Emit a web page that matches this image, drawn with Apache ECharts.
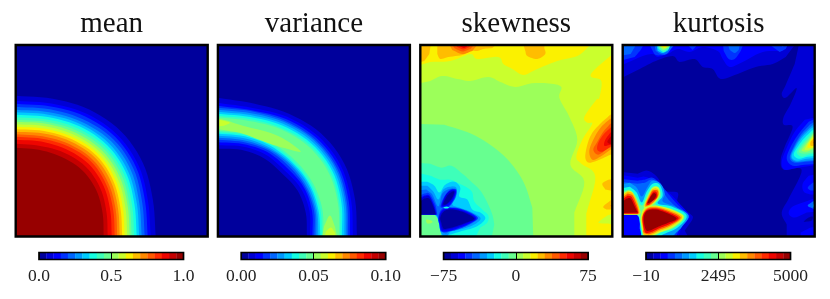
<!DOCTYPE html>
<html><head><meta charset="utf-8">
<style>html,body{margin:0;padding:0;background:#fff}#c{width:830px;height:299px}</style>
<script src="https://cdn.jsdelivr.net/npm/echarts@6/dist/echarts.min.js"></script>
</head><body><div id="c"></div>
<script>
const titles = ['mean', 'variance', 'skewness', 'kurtosis'];
const meanTicks = ['0.0', '0.5', '1.0'];
const varianceTicks = ['0.00', '0.05', '0.10'];
const skewnessTicks = ['\u221275', '0', '75'];
const kurtosisTicks = ['\u221210', '2495', '5000'];
const colorbarBands = [0,1,2,3,4,5,6,7,8,9,10,11,12,13,14,15,16,17,18,19];
const bandColorPositions = [.025,.075,.125,.175,.225,.275,.325,.375,.425,.475,.54,.595,.655,.71,.765,.815,.865,.905,.94,.98];
const fieldBox = [-3,-3,196,-3,196,196,-3,196];

// Contour radii read along rays at these angles from the lower-left corner
const arcAngles = [90,75,60,45,30,15,0];

// mean: [band, radii]
const meanContours = [
[1,[141,143,147,149,147,142,140]],
[2,[136,138,142,144,142,137,135]],
[3,[133,135,139,141,139,134,132]],
[4,[130,132,135.5,138,136,131,129]],
[5,[127,129,132.5,135,133,128,126]],
[6,[124.5,126.5,130,132,130,125.5,123.5]],
[7,[122,124,127.5,129.5,127.5,123,121]],
[8,[119.5,121.5,125,127,125,120.5,118.5]],
[9,[117,119,122.5,124.5,122.5,118,116]],
[10,[115,117,120,122,120,116,114]],
[11,[112.5,114.5,117.5,119.5,117.5,113.5,111.5]],
[12,[110,112,115,117,115,111,109]],
[13,[107.5,109.5,112.5,114.5,112.5,108.5,106.5]],
[14,[105,107,110,112,110,106,104]],
[15,[102.5,104,107,109,107,103.5,101.5]],
[16,[100,101.5,104.5,106.5,104.5,101,99]],
[17,[97,98.5,101,103,101.5,98,96]],
[18,[93,94,97,99,97.5,94,92]],
[19,[89,90,92,94,93,90,88]]
];

// variance: [band, outer radii, inner radii]
const varianceRings = [
[1,[139,138,142,146,146,142,139],[88,90,91,90,92,91,89]],
[2,[134,133.5,138.5,142,142,138,135],[91.5,93.5,95,94,96,95,92]],
[3,[131,131,136,139.5,139.5,135.5,132],[94.5,96,98,97.5,99,97.5,94.5]],
[4,[129,130,134,137.5,137.5,133.5,130],[97,98,100,100,100.5,99.5,96.5]],
[5,[127,128,132.5,136,136,132,128.5],[99,100,101.5,102,102,101,98.5]],
[6,[125,126,130.5,134,134,130,126.5],[101,102,103,103.5,104,102.5,100.5]],
[7,[123,124,128.5,132,132,128,124],[103,104,105,105,105.5,104,102.5]],
[8,[121,122,126,130,130,126,122.5],[104.5,105.5,106.5,106.5,107,106,104]],
[9,[119.5,120,124.5,128,128,124.5,121.5],[106,107,108,108.5,109,108,105.5]]
];
const varianceBlobs = [
[10,[-3,119,10,116,25,111,52,104,69,96,83,85,69,88,52,93,25,103,10,106,-3,108]],
[11,[-3,118,6,116,12,114,6,111,-3,110]],
[10,[104,-3,106,10,112,21,117,10,120,-3]],
[11,[106,-3,108,5,113,9,117,4,118,-3]]
];

const skewnessBands = [
[10,fieldBox],
[11,[-3,153,10,156,22,161,37,158,50,156,68,160,80,155,95,150,115,154,140,151,139,139,149,120,157,97,150,72,164,55,154,24,154,-3,196,-3,196,196,-3,196]],
[12,[-3,171,10,175,30,176,50,183,57,178,78,180,83,173,92,168,103,162,117,168,137,176,157,181,168,190,174,196,-3,196]],
[12,[196,183,190,181,173,166,171,160,181,156,179,139,176,137,164,120,167,114,172,113,162,97,156,80,161,73,175,60,166,23,166,-3,196,-3]],
[11,[196,24,187,21,178,14,188,13,196,11]],
[13,[-3,174,4,176,9,183,11,196,-3,196]],
[13,[17,196,17,183,20,178,28,180,42,182,50,186,57,186,63,188,72,189,80,196]],
[13,[102,196,105,186,107,181,117,178,125,183,124,190,128,192,147,192,157,192,165,196]],
[13,[196,123,190,122,181,114,172,104,167,92,165,79,169,74,179,77,190,82,196,83]],
[13,[196,58,188,57,182,53,185,47,196,45]],
[13,[196,40,190,36,183,30,186,27,196,27]],
[14,[196,35,190,31,192,29,196,29]],
[14,[27,196,32,187,42,183,52,186,60,196]],
[15,[30,196,34,189,42,185.5,50,188,57,196]],
[16,[33,196,37,190,43,187.5,49,190,54,196]],
[17,[35,196,39,191,44,189,48,192,51,196]],
[18,[37,196,41,192.5,45,191,47,196]],
[14,[196,119,190,118,181,110,174,99,169,86,172,77,180,80,190,87,196,88]],
[15,[196,115,190,113,183,105,177,95,173,87,178,82,187,88,196,92]],
[16,[196,112,190,109,183,102,178,94,177,87,182,85,190,90,196,94]],
[17,[196,108,190,104,185,97,184,91,190,92,196,96]],
[18,[196,105,191,101,187,95,191,92,196,93]],
[9,[-3,113,24,112,51,103,74,89,91,73,104,53,112,29,113,-3,-3,-3]],
[8,[-3,74,10,73,21,69,31,71,42,63,52,54,60,46,66,36,72,22,74,12,71,-3,-3,-3]],
[7,[-3,64,10,61,20,57,30,57,37,54,47,49,52,44,54,35,62,27,68,21,67,14,60,9,54,-3,-3,-3]],
[9,[-3,22,14,22,18,17,19,9,24,-3,-3,-3]],
[10,[6,17,11,16,12,14,7,13]],
[6,[-3,55,7,55,14,51,19,44,25,52,34,55,40,49,39,40,47,37,52,27,60,24,65,19,62,14,54,9,40,5,27,1,22,-3,20,7,17,19,14,22,-3,22]],
[5,[-3,51,7,51,13,45,18,37,23,47,30,50,36,49,36,40,32,32,39,29,50,25,60,19,57,14,47,9,30,5,25,-3,20,5,18,17,15,22,-3,22]],
[4,[-3,46,6,47,12,42,18,30,22,43,30,48,34,46,33,38,28,30,24,28,36,26,50,22,57,18,53,14,45,10,30,6,26,3,21,6,19,17,16,22,-3,22]],
[3,[-3,40,4,43,9,43,15,32,17,22,-3,22]],
[3,[20,30,24,40,30,47,36,47,35,39,29,30,24,29]],
[3,[18,19,22,28,34,29,47,25.5,57.5,19,52,14,40,8,29,5,21,5,19,12]],
[2,[-3,37,4,41,9,41,14,31,16.5,22,-3,22]],
[2,[21,31,25,41,30.5,46.5,35.5,46,34,39,29,31.5,24,30]],
[2,[18.5,19,22.5,27,33,28.5,46,25,56,18.5,49,13,38,8.5,29,5.5,21.5,5.5,19.5,12]],
[1,[-3,35,4,40,9,40,13.5,30.5,16,22,-3,22]],
[1,[22,32,26,42,31,46,35,45,33,39,28,33,24,31]],
[1,[19,19,23,26,32,27.5,45,24.5,55,18,47,13.5,35,9,27,7,22,7,20,14]],
[0,[-3,33,4,38,9,38,13,30,15.5,22,-3,22]],
[0,[23,33,27,41,32,45,34,44.5,32,39,28,34,25,32]],
[0,[20,19,24,25.5,32,27,44,24,54,18,46,14,35,10,27,8,23,8,21,14]],
[7,[23,29,26,30,29,29,26,28]]
];

const kurtosisBands = [
[0,fieldBox],
[1,[-3,158,17,168,33,176,50,181,57,175,72,178,80,170,90,168,98,158,115,163,133,170,150,173,163,180,175,196,-3,196]],
[1,[177,196,172,173,163,152,159,143,163,139,174,149,168,133,161,120,161,112,170,110,162,90,158,77,161,67,179,67,167,40,159,24,164,12,164,-3,196,-3,196,196]],
[2,[-3,171,13,178,20,181,30,183,35,180,45,183,55,188,67,185,80,190,95,186,100,178,107,170,120,175,140,185,160,186,167,196,-3,196]],
[3,[-3,176,12,180,18,187,23,196,-3,196]],
[3,[25,196,29,188,33,182,42,182,53,193,55,196]],
[3,[61,196,70,187,78,196]],
[3,[100,196,101,186,106,178,112,178,118,186,122,196]],
[3,[142,196,157,185,163,188,167,196]],
[4,[-3,181,8,183,12,190,14,196,-3,196]],
[4,[31,196,33,186,38,183,44,183,49,189,54,196]],
[4,[104,196,107,187,112,184,116,187,118,196]],
[4,[64,196,70,191,75,196]],
[4,[157,196,160,190,165,196]],
[6,[33,196,35,186,40,184,45,186,50,196]],
[8,[34,196,36,188,41,185,46,188,49,196]],
[10,[35,196,37,190,41,187,46,190,48,196]],
[12,[36,196,38,191,42,189,45,191,47,196]],
[14,[37,196,39,192,42,191,44,193,46,196]],
[16,[39,196,42,193,44,196]],
[2,[196,163,190,158,190,152,196,150]],
[2,[196,120,182,117,172,105,164,89,159,75,162,67,175,69,196,72]],
[3,[196,120,186,115,176,103,168,90,164,78,170,71,182,72,196,73]],
[4,[196,118,187,112,178,102,171,90,167,79,172,74,183,75,196,76]],
[5,[196,116,188,110,179,101,172,90,168,80,173,75,184,76,196,77]],
[6,[196,113,188,108,180,100,173,90,169,80,174,76,184,78,196,79]],
[7,[196,111,189,106,181,98,175,90,171,82,176,78,185,80,196,81]],
[8,[196,110,189,104,183,97,177,90,174,84,179,80,186,82,196,84]],
[9,[196,109,190,103,184,96,179,90,176,85,181,83,188,84,196,86]],
[10,[196,108,190,102,185,95,181,90,179,86,184,85,189,87,196,88]],
[11,[196,107,191,101,186,95,183,90,182,87,186,87,191,89,196,90]],
[12,[196,106,191,100,187,95,185,91,185,89,189,89,196,91]],
[13,[196,104,192,99,188,95,188,91,192,91,196,92]],
[14,[196,102,193,97,190,94,193,92,196,93]],
[15,[196,100,193,96,196,93]],
[2,[196,63,186,61,180,53,181,45,188,42,196,42]],
[3,[196,56,190,54,185,49,188,46,196,46]],
[2,[196,40,186,36,170,30,166,23,172,19,184,24,196,25]],
[4,[196,37,190,35,185,31,190,28,196,27]],
[6,[196,35,191,33,190,30,196,29]],
[0,[181,15,186,19,190,20,189,16,184,15]],
[2,[196,10,188,9,178,4,178,-3,196,-3]],
[1,[-3,65,15,63,25,66,35,59,42,46,55,44,55,33,67,23,70,18,62,6,67,-3,-3,-3]],
[2,[-3,62,15,59,22,60,29,57,37,50,47,43,55,35,64,25,67,19,59,10,55,-3,-3,-3]],
[3,[-3,58,15,56,22,57,30,59,38,52,47,41,54,33,62,25,66,19,58,10,52,-3,-3,-3]],
[4,[-3,55,15,53,22,54,30,57,38,49,45,38,52,31,60,24,64,19,56,10,50,-3,-3,-3]],
[5,[-3,52,7,54,14,49,19,40,25,50,30,56,38,53,42,43,40,35,52,30,66,21,58,8,46,-3,-3,-3]],
[2,[-3,22,14,22,17,17,17,8,20,-3,-3,-3]],
[7,[-3,48,7,50,14,44,19,34,24,45,30,53,37,52,40,41,35,33,49,30,64,21,55,9,40,2,34,-3,19,-3,18,8,16,20,14,22,-3,22]],
[9,[-3,45,7,47,13,41,19,31,24,41,30,50,36,49,38,40,33,32,48,28,62,20,52,9,38,4,28,-3,20,-3,19,8,17,19,14,22,-3,22]],
[11,[-3,42,6,46,10,44,15,33,18,24,15,22,-3,22]],
[11,[21,30,25,40,30,49,36,49,37,41,30,32,24,29]],
[11,[18,19,22,29,33,31,48,27.5,61,20,51,9.5,37,4,27,-1,22,-3,19,8]],
[13,[-3,39,5,45,10,43,15,33,17,24,15,22,-3,22]],
[13,[22,31,26,41,30,47.5,35,47.5,36,41,30,33,25,30]],
[13,[19,19,23,28,33,30,47,26.5,59.5,19.5,49,10.5,37,5.5,27,1,21,2,20,8]],
[15,[-3,37,5,43,10,41,14,32,16,24,14,22.5,-3,22.5]],
[15,[23,32,27,41,30,46,35,46,35,40,30,34,25,31]],
[15,[19.5,19,24,27.5,33,29,46,25.5,58,19,48,11.5,37,7,27,2.5,21,4,20.5,9]],
[17,[-3,35,5,41,9,39.5,13,31,15.5,24,14,23,-3,23]],
[17,[24,33,28,41,31,45,34,44,34,39,29,35,26,32]],
[17,[20,19,24,26.5,33,28,45,24.5,56,18.5,47,12.5,37,8.5,27,4,22,5]],
[19,[-3,33,4,38,8,38,12,30,15,24,-3,23.5]],
[19,[25,34,28,40,31,43.5,33.5,42,32,38,28,34.5]],
[19,[21,18,24,25.5,33,27,44,23.5,54,18,45,13.5,36,10,27,6,23,7]]
];

// ----- assembling closed contour loops
const ray = (r, a) => [r * Math.cos(a * Math.PI / 180), r * Math.sin(a * Math.PI / 180)];
const meanBands = [[0, fieldBox]].concat(meanContours.map(([b, rs]) => {
  const f = [];
  rs.forEach((r, i) => f.push(...ray(r, arcAngles[i])));
  f.push(rs[6], -3, -3, -3, -3, rs[0]);
  return [b, f];
}));
const varianceBands = [[0, fieldBox]].concat(varianceRings.map(([b, o, n]) => {
  const f = [];
  o.forEach((r, i) => f.push(...ray(r, arcAngles[i])));
  f.push(o[6], -3, n[6], -3);
  for (let i = 6; i >= 0; i--) f.push(...ray(n[i], arcAngles[i]));
  f.push(-3, n[0], -3, o[0]);
  return [b, f];
}), varianceBlobs);

// ----- jet colour map
function lerp(stops, t) {
  for (let i = 1; i < stops.length; i++) if (t <= stops[i][0]) {
    const [a, va] = stops[i - 1], [b, vb] = stops[i];
    return va + (vb - va) * (t - a) / (b - a);
  }
  return stops[stops.length - 1][1];
}
const jetR = [[0,0],[.35,0],[.66,1],[.89,1],[1,.5]];
const jetG = [[0,0],[.125,0],[.375,1],[.64,1],[.91,0],[1,0]];
const jetB = [[0,.5],[.11,1],[.34,1],[.65,0],[1,0]];
function bandColor(b) {
  const t = bandColorPositions[b];
  const c = [jetR, jetG, jetB].map(s => Math.round(255 * lerp(s, t)));
  return 'rgb(' + c.join(',') + ')';
}

const FIELD = 192;
const isOut = p => p[0] < 0 || p[1] < 0 || p[0] > FIELD || p[1] > FIELD;
function outline(flat) {
  const P = [];
  for (let i = 0; i < flat.length; i += 2) P.push([flat[i], flat[i + 1]]);
  const n = P.length, res = [];
  for (let i = 0; i < n; i++) {
    const a = P[i], b = P[(i + 1) % n], p = P[(i - 1 + n) % n], q = P[(i + 2) % n];
    if (isOut(a) || isOut(b)) { res.push(a); continue; }
    const ma = isOut(p) ? [b[0]-a[0], b[1]-a[1]] : [(b[0]-p[0])/2, (b[1]-p[1])/2];
    const mb = isOut(q) ? [b[0]-a[0], b[1]-a[1]] : [(q[0]-a[0])/2, (q[1]-a[1])/2];
    for (let k = 0; k < 6; k++) {
      const t = k / 6, t2 = t*t, t3 = t2*t;
      const h00 = 2*t3-3*t2+1, h10 = t3-2*t2+t, h01 = -2*t3+3*t2, h11 = t3-t2;
      res.push([h00*a[0]+h10*ma[0]+h01*b[0]+h11*mb[0], h00*a[1]+h10*ma[1]+h01*b[1]+h11*mb[1]]);
    }
  }
  return res;
}

const panelLefts = [15.7, 217.9, 420.3, 622.7];
const panelData = [meanBands, varianceBands, skewnessBands, kurtosisBands];
const tickSets = [meanTicks, varianceTicks, skewnessTicks, kurtosisTicks];
const FONT = '"Liberation Serif", serif';

const opt = { animation:false, backgroundColor:'#fff', title:[], grid:[], xAxis:[], yAxis:[], series:[] };
const frame = (width) => (params, api) => {
  const r = params.coordSys;
  return { type:'rect', shape:{x:r.x, y:r.y, width:r.width, height:r.height},
    style:{fill:'none', stroke:'#000', lineWidth:width} };
};

panelLefts.forEach((left, i) => {
  const bands = panelData[i], ticks = tickSets[i];
  opt.title.push({ text:titles[i], left:left + 91, top:5, textAlign:'center',
    textStyle:{ fontFamily:FONT, fontSize:29, fontWeight:'normal', color:'#111' } });
  // field
  const g = opt.grid.length;
  opt.grid.push({ left:left, top:45, width:192, height:191.5, containLabel:false });
  opt.xAxis.push({ gridIndex:g, type:'value', min:0, max:FIELD, show:false });
  opt.yAxis.push({ gridIndex:g, type:'value', min:0, max:FIELD, show:false });
  opt.series.push({ type:'custom', coordinateSystem:'cartesian2d', xAxisIndex:g, yAxisIndex:g, clip:true, silent:true,
    z:2, data:bands.map(b => [b[0]]),
    renderItem:(params, api) => ({ type:'polygon',
      shape:{ points:outline(bands[params.dataIndex][1]).map(p => api.coord(p)) },
      style:{ fill:bandColor(bands[params.dataIndex][0]) } }) });
  opt.series.push({ type:'custom', coordinateSystem:'cartesian2d', xAxisIndex:g, yAxisIndex:g, clip:false, silent:true,
    z:6, data:[[0]], renderItem:frame(2.4) });
  // colour bar
  const c = opt.grid.length;
  opt.grid.push({ left:left + 23.3, top:252.5, width:144.5, height:7 });
  opt.xAxis.push({ gridIndex:c, type:'value', min:0, max:colorbarBands.length, interval:colorbarBands.length / 2, z:5,
    splitLine:{show:false}, axisLine:{show:false},
    axisTick:{ show:true, inside:true, length:7, lineStyle:{color:'#000', width:1} },
    axisLabel:{ show:true, margin:8, fontFamily:FONT, fontSize:17.5, color:'#222',
      showMinLabel:true, showMaxLabel:true, hideOverlap:false,
      formatter:v => ticks[Math.round(v / (colorbarBands.length / 2))] } });
  opt.yAxis.push({ gridIndex:c, type:'value', min:0, max:1, show:false });
  opt.series.push({ type:'custom', coordinateSystem:'cartesian2d', xAxisIndex:c, yAxisIndex:c, silent:true, z:2,
    data:colorbarBands.map(b => [b]),
    renderItem:(params, api) => {
      const b = api.value(0), p0 = api.coord([b, 1]), p1 = api.coord([b + 1, 0]);
      return { type:'rect', shape:{x:p0[0], y:p0[1], width:p1[0]-p0[0]+.3, height:p1[1]-p0[1]},
        style:{fill:bandColor(b)} };
    } });
  opt.series.push({ type:'custom', coordinateSystem:'cartesian2d', xAxisIndex:c, yAxisIndex:c, silent:true,
    z:6, data:[[0]], renderItem:frame(1.7) });
});

echarts.init(document.getElementById('c'), null, {renderer:'canvas'}).setOption(opt);
</script></body></html>
